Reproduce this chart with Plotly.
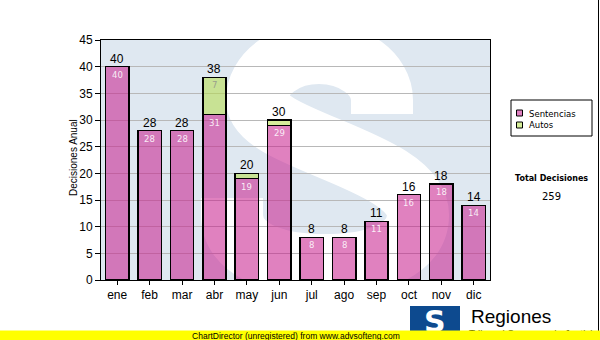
import plotly.graph_objects as go

# Monthly decisions, split by type
months = ["ene", "feb", "mar", "abr", "may", "jun", "jul", "ago", "sep", "oct", "nov", "dic"]
sentencias = [40, 28, 28, 31, 19, 29, 8, 8, 11, 16, 18, 14]
autos = [0, 0, 0, 7, 1, 1, 0, 0, 0, 0, 0, 0]
y_ticks = [0, 5, 10, 15, 20, 25, 30, 35, 40, 45]

totals = [s + a for s, a in zip(sentencias, autos)]
grand_total = sum(totals)
xs = list(range(len(months)))

# page geometry (pixels) of the plotting area
L, R, T, B = 101, 490, 40, 280
W, H = 600, 340
Y_MAX = 45


def px_to_data(px, py):
    return ((px - L) / (R - L) * 12 - 0.5, (B - py) / (B - T) * Y_MAX)


def px_to_paper(px, py):
    return ((px - L) / (R - L), (B - py) / (B - T))


def path_from(cmds):
    out = []
    for c, pts in cmds:
        coords = " ".join("%.4f,%.4f" % px_to_data(*p) for p in pts)
        out.append(c + " " + coords)
    return " ".join(out)


fig = go.Figure()

fig.add_trace(go.Bar(
    x=xs, y=sentencias, name="Sentencias", width=0.72,
    marker=dict(color="rgba(200,30,140,0.56)", line=dict(color="black", width=1.5)),
    hoverinfo="skip",
))
fig.add_trace(go.Bar(
    x=xs, y=autos, name="Autos", width=0.72,
    marker=dict(color="rgba(182,222,75,0.56)", line=dict(color="black", width=1.5)),
    hoverinfo="skip",
))

annotations = []

# value labels: total above each column, segment values just inside the top
for i in xs:
    annotations.append(dict(
        x=i, y=totals[i], xref="x", yref="y", text=str(totals[i]), showarrow=False,
        xanchor="center", yanchor="bottom", yshift=-1,
        font=dict(family="Liberation Sans", size=12, color="black"),
    ))
    annotations.append(dict(
        x=i, y=sentencias[i], xref="x", yref="y", text=str(sentencias[i]), showarrow=False,
        xanchor="center", yanchor="top", yshift=-1,
        font=dict(family="DejaVu Sans", size=8.5, color="rgba(255,255,255,0.88)"),
    ))
    if autos[i] >= 3:
        annotations.append(dict(
            x=i, y=totals[i], xref="x", yref="y", text=str(autos[i]), showarrow=False,
            xanchor="center", yanchor="top", yshift=-1,
            font=dict(family="DejaVu Sans", size=8.5, color="#9a9f8c"),
        ))

# large watermark "S" behind the grid
s_path = path_from([
    ("M", [(382, 114)]),
    ("L", [(382, 100)]),
    ("C", [(382, 74), (353, 53), (319, 53)]),
    ("C", [(285, 53), (257, 74), (257, 100)]),
    ("C", [(257, 140), (418, 160), (418, 215)]),
    ("C", [(418, 250), (375, 265), (325, 265)]),
    ("C", [(275, 265), (232, 250), (232, 215)]),
    ("L", [(232, 198)]),
])

shapes = [
    dict(type="path", xref="x", yref="y", path=s_path, layer="below",
         line=dict(color="white", width=62)),
]

# legend box and swatches
lx0, ly0 = px_to_paper(511, 100)
lx1, ly1 = px_to_paper(592, 136)
shapes.append(dict(type="rect", xref="paper", yref="paper", x0=lx0, y0=ly0, x1=lx1, y1=ly1,
                   line=dict(color="black", width=1), fillcolor="white"))
for (sy, col) in [(113, "#df7fc0"), (125, "#d6ee99")]:
    a0, b0 = px_to_paper(516.5, sy - 3)
    a1, b1 = px_to_paper(522.5, sy + 3)
    shapes.append(dict(type="rect", xref="paper", yref="paper", x0=a0, y0=b1, x1=a1, y1=b0,
                       line=dict(color="black", width=1), fillcolor=col))

# right border line of the page
rx, ry0 = px_to_paper(598.5, 0)
_, ry1 = px_to_paper(598.5, 331)
shapes.append(dict(type="line", xref="paper", yref="paper", x0=rx, x1=rx, y0=ry0, y1=ry1,
                   line=dict(color="black", width=1)))

# logo block
bx0, by0 = px_to_paper(410, 306)
bx1, by1 = px_to_paper(460, 338)
shapes.append(dict(type="rect", xref="paper", yref="paper", x0=bx0, y0=by1, x1=bx1, y1=by0,
                   line=dict(width=0), fillcolor="#0d4a8f"))


def note(text, px, py, size, family="Liberation Sans", color="black",
         xanchor="center", yanchor="middle", **kw):
    x, y = px_to_paper(px, py)
    annotations.append(dict(text=text, x=x, y=y, xref="paper", yref="paper",
                            xanchor=xanchor, yanchor=yanchor, showarrow=False,
                            font=dict(family=family, size=size, color=color), **kw))


note("Decisiones Anual", 73, 158, 10, textangle=-90)
note("Sentencias", 527, 113.5, 8.5, family="DejaVu Sans", xanchor="left")
note("Autos", 527, 125.5, 8.5, family="DejaVu Sans", xanchor="left")
note("<b>Total Decisiones</b>", 551, 178, 8, family="DejaVu Sans")
note(str(grand_total), 551, 196, 10, family="DejaVu Sans")
note("<b>S</b>", 435, 321, 30, family="DejaVu Sans", color="white")
note("Regiones", 511, 316, 19)
note("Tribunal Supremo de Justicia", 467, 334, 10, xanchor="left")

# unregistered banner along the bottom edge
note("ChartDirector (unregistered) from www.advsofteng.com", 296, 335.5, 8.5,
     width=W + 12, height=10, bgcolor="#ffff00", borderpad=0)

fig.update_layout(
    width=W, height=H,
    margin=dict(l=L, r=W - R, t=T, b=H - B, pad=0),
    barmode="stack", bargap=0.28,
    showlegend=False,
    paper_bgcolor="white",
    plot_bgcolor="#dfe8f1",
    shapes=shapes,
    annotations=annotations,
    xaxis=dict(
        range=[-0.5, 11.5], tickmode="array", tickvals=xs, ticktext=months,
        showgrid=False, showline=True, linecolor="black", linewidth=1, mirror=True,
        ticks="outside", ticklen=4, tickcolor="black",
        tickfont=dict(family="Liberation Sans", size=12, color="black"),
        zeroline=False, fixedrange=True,
    ),
    yaxis=dict(
        range=[0, Y_MAX], tickmode="array", tickvals=y_ticks,
        showgrid=True, gridcolor="#b8b8b8", gridwidth=1,
        showline=True, linecolor="black", linewidth=1, mirror=True,
        ticks="outside", ticklen=5, tickcolor="black",
        tickfont=dict(family="Liberation Sans", size=12, color="black"),
        zeroline=False, fixedrange=True,
    ),
)

fig.write_html("out.html", config={"displayModeBar": False})
